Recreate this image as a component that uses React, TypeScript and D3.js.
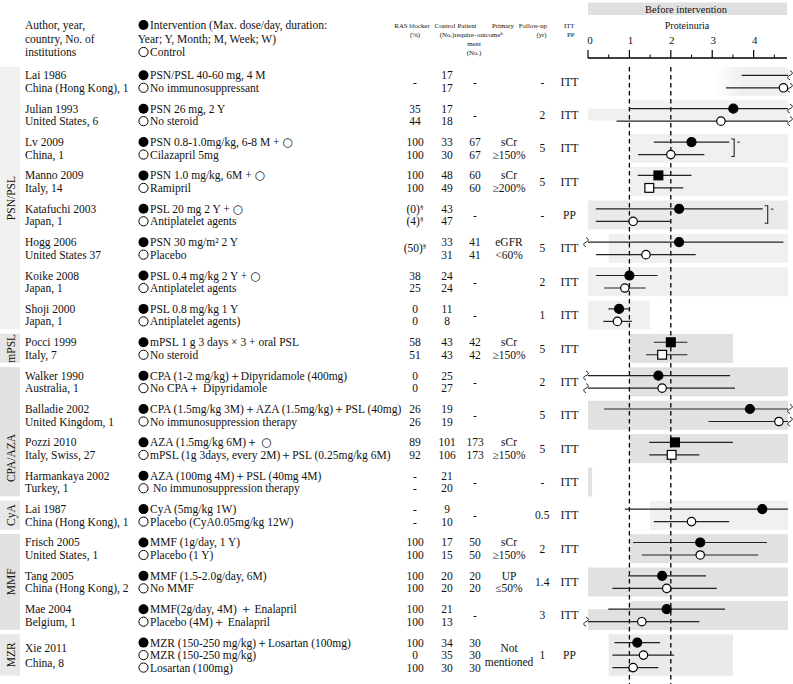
import React from "react";
import * as d3 from "d3";

// ---------- data ----------
const studies = ["Lai 1986","Julian 1993","Lv 2009","Manno 2009","Katafuchi 2003","Hogg 2006","Koike 2008","Shoji 2000","Pocci 1999","Walker 1990","Balladie 2002","Pozzi 2010","Harmankaya 2002","Lai 1987","Frisch 2005","Tang 2005","Mae 2004","Xie 2011"];
const countries = ["China (Hong Kong), 1","United States, 6","China, 1","Italy, 14","Japan, 1","United States 37","Japan, 1","Japan, 1","Italy, 7","Australia, 1","United Kingdom, 1","Italy, Swiss, 27","Turkey, 1","China (Hong Kong), 1","United States, 1","China (Hong Kong), 2","Belgium, 1","China, 8"];
const groupNames = ["PSN/PSL","mPSL","CPA/AZA","CyA","MMF","MZR"];
const groupFirst = [0,8,9,13,14,17];
const groupLast = [7,8,12,13,16,17];

const armText = [
  ["PSN/PSL 40-60 mg, 4 M","No immunosuppressant"],
  ["PSN 26 mg, 2 Y","No steroid"],
  ["PSN 0.8-1.0mg/kg, 6-8 M + ○","Cilazapril 5mg"],
  ["PSN 1.0 mg/kg, 6M + ○","Ramipril"],
  ["PSL 20 mg 2 Y + ○","Antiplatelet agents"],
  ["PSN 30 mg/m² 2 Y","Placebo"],
  ["PSL 0.4 mg/kg 2 Y + ○","Antiplatelet agents"],
  ["PSL 0.8 mg/kg 1 Y","Antiplatelet agents)"],
  ["mPSL 1 g 3 days × 3 + oral PSL","No steroid"],
  ["CPA (1-2 mg/kg)＋Dipyridamole (400mg)","No CPA＋ Dipyridamole"],
  ["CPA (1.5mg/kg 3M)＋AZA (1.5mg/kg)＋PSL (40mg)","No immunosuppression therapy"],
  ["AZA (1.5mg/kg 6M)＋ ○","mPSL (1g 3days, every 2M)＋PSL (0.25mg/kg 6M)"],
  ["AZA (100mg 4M)＋PSL (40mg 4M)"," No immunosuppression therapy"],
  ["CyA (5mg/kg 1W)","Placebo (CyA0.05mg/kg 12W)"],
  ["MMF (1g/day, 1 Y)","Placebo (1 Y)"],
  ["MMF (1.5-2.0g/day, 6M)","No MMF"],
  ["MMF(2g/day, 4M) ＋ Enalapril","Placebo (4M)＋ Enalapril"],
  ["MZR (150-250 mg/kg)＋Losartan (100mg)","MZR (150-250 mg/kg)","Losartan (100mg)"],
];

const rasBlocker = [["-"],["35","44"],["100","100"],["100","100"],["(0)§","(4)§"],["(50)§"],["38","25"],["0","0"],["58","51"],["0","0"],["26","26"],["89","92"],["-","-"],["-","-"],["100","100"],["100","100"],["100","100"],["100","0","100"]];
const controlNo = [["17","17"],["17","18"],["33","30"],["48","49"],["43","47"],["33","31"],["24","24"],["11","8"],["43","43"],["25","27"],["19","19"],["101","106"],["21","20"],["9","10"],["17","15"],["20","20"],["21","13"],["34","35","30"]];
const patientReq = [["-"],["-"],["67","67"],["60","60"],["-"],["41","41"],["-"],["-"],["42","42"],["-"],["-"],["173","173"],["-"],["-"],["50","50"],["20","20"],["-"],["30","30","30"]];
const outcome = [[],[],["sCr","≥150%"],["sCr","≥200%"],[],["eGFR","<60%"],[],[],["sCr","≥150%"],[],[],["sCr","≥150%"],[],[],["sCr","≥150%"],["UP","≤50%"],[],["Not","mentioned"]];
const followUp = ["-","2","5","5","-","5","2","1","5","2","5","5","-","0.5","2","1.4","3","1"];
const analysis = ["ITT","ITT","ITT","ITT","PP","ITT","ITT","ITT","ITT","ITT","ITT","ITT","ITT","ITT","ITT","ITT","ITT","PP"];

// proteinuria estimates (null = not shown); values beyond the axis are drawn with a break
const est = [[null,4.72],[3.51,3.21],[2.50,2.00],[1.70,1.48],[2.20,1.09],[2.20,1.40],[1.00,0.89],[0.75,0.71],[2.00,1.79],[1.70,1.79],[3.91,4.61],[2.10,2.02],[null,null],[4.21,2.50],[2.71,2.71],[1.79,1.90],[1.90,1.30],[1.19,1.34,1.09]];
const lo = [[3.71,3.33],[1.00,0.69],[1.59,1.21],[1.20,1.45],[0.19,0.19],[-0.5,0.19],[0.19,0.39],[0.49,0.37],[1.59,1.40],[-0.5,-0.5],[0.39,2.91],[1.48,1.48],[null,null],[0.89,1.59],[1.09,1.30],[0.97,0.59],[0.49,-0.5],[0.64,0.59,0.59]];
const hi = [[6.0,6.0],[6.0,6.0],[3.41,2.81],[2.50,2.30],[4.22,2.00],[4.72,2.60],[1.68,1.39],[1.00,1.06],[2.40,2.40],[3.43,3.55],[6.0,6.0],[3.50,2.69],[null,null],[4.83,3.41],[4.32,4.11],[2.85,3.11],[3.31,2.69],[1.74,2.08,1.70]];
const markShape = ["circle","circle","circle","square","circle","circle","circle","circle","square","circle","circle","square","circle","circle","circle","circle","circle","circle"];

// baseline ("before intervention") ranges
const bgFrom = [3.07,1.0,1.0,1.0,0,0.5,0,0,1.0,1.0,0,1.0,0,1.5,1.0,0,1.0,0.5];
const bgTo = [4.83,4.83,4.83,4.83,4.83,4.83,4.83,1.5,3.5,4.83,4.83,4.83,0.1,4.83,4.83,4.83,4.83,3.5];
const bgExtFrom = [null,0,null,null,null,null,null,null,null,null,null,null,null,null,null,null,0,null];
const bgExtTo = [null,1.0,null,null,null,null,null,null,null,null,null,null,null,null,null,null,1.0,null];
const bgTone = ["fade","light","light","light","mid","light","light","light","dark","dark","dark","dark","dark","light","dark","dark","dark","mid"];

const bracketStudy = [2,4];
const bracketAt = [3.53,4.34];

const majorTicks = [0,1,2,3,4];
const minorTicks = [0.5,1.5,2.5,3.5,4.5];
const refLines = [1,2];

// ---------- layout ----------
const W = 793, H = 684;
const FONT = "'Liberation Serif','Times New Roman',Times,serif";
const x = d3.scaleLinear().domain([0, 4.83]).range([588, 788]);
const Y0 = 75.3, STEP = 33.37, ROW = 12.5;
const rowY = (i: number, k: number) => Y0 + i * STEP + k * ROW;
const midY = (i: number) => rowY(i, (armText[i].length - 1) / 2);
const toneColor: Record<string, string> = { fade: "#f0f0f0", light: "#f0f0f0", mid: "#eaeaea", dark: "#e1e1e1" };
const groupColor = ["#f1f1f1","#e5e5e5","#e1e1e1","#e8e8e8","#e1e1e1","#e8e8e8"];
const SYM_X = 143.5;

function Sup({ s }: { s: string }) {
  const parts = s.split("§");
  if (parts.length === 1) return <>{s}</>;
  return <>{parts[0]}<tspan fontSize={7} dy={-4}>§</tspan></>;
}

function ArmLabel({ t }: { t: string }) {
  const parts = t.split("○");
  if (parts.length === 1) return <>{t}</>;
  return (
    <>
      {parts[0]}
      <tspan fontFamily="'DejaVu Sans',sans-serif" fontSize={12}>○</tspan>
      {parts[1]}
    </>
  );
}

function colLines(vals: string[], i: number) {
  const n = vals.length;
  if (n === 1) return [midY(i)];
  const nr = armText[i].length;
  if (n === nr) return vals.map((_, k) => rowY(i, k));
  const m = midY(i);
  return vals.map((_, k) => m + (k - (n - 1) / 2) * 13.5);
}

function Squiggle({ cx, y }: { cx: number; y: number }) {
  return <path d={`M${cx},${y - 4.5} c3,1 3,3.5 0,4.5 c-3,1 -3,3.5 0,4.5`} fill="none" stroke="#222" strokeWidth={1} />;
}

export default function App() {
  const [d0, d1] = x.domain();
  const colCells = (arr: string[][], cx: number) =>
    arr.map((vals, i) => {
      const ys = colLines(vals, i);
      return vals.map((v, k) => (
        <text key={`${cx}-${i}-${k}`} x={cx} y={ys[k] + 4} textAnchor="middle"><Sup s={v} /></text>
      ));
    });

  return (
    <div style={{ position: "absolute", left: 0, top: 0 }}>
      <svg width={W} height={H} style={{ display: "block", background: "#fff" }} fontFamily={FONT} fontSize={11.5} fill="#111">
        <defs>
          <linearGradient id="fadeGrad" x1="0" x2="1" y1="0" y2="0">
            <stop offset="0" stopColor="#ffffff" />
            <stop offset="0.35" stopColor="#f0f0f0" />
            <stop offset="1" stopColor="#f0f0f0" />
          </linearGradient>
        </defs>

        {/* group label boxes */}
        {groupNames.map((g, j) => {
          const top = rowY(groupFirst[j], 0) - 8.5;
          const last = groupLast[j];
          const bot = rowY(last, armText[last].length - 1) + 8;
          const cy = g === "CPA/AZA" ? 458 : (top + bot) / 2;
          return (
            <g key={g}>
              <rect x={0} y={top} width={20} height={bot - top} fill={groupColor[j]} />
              <text transform={`translate(14.5,${cy}) rotate(-90)`} textAnchor="middle">{g}</text>
            </g>
          );
        })}

        {/* header left */}
        <text x={25} y={29}>Author, year,</text>
        <text x={25} y={43}>country, No. of</text>
        <text x={25} y={56}>institutions</text>
        <circle cx={SYM_X} cy={25} r={5} fill="#000" />
        <text x={150} y={29}>Intervention (Max. dose/day, duration:</text>
        <text x={137.7} y={43}>Year; Y, Month; M, Week; W)</text>
        <circle cx={SYM_X} cy={52} r={4.6} fill="#fff" stroke="#000" strokeWidth={1} />
        <text x={150} y={56}>Control</text>

        {/* header columns */}
        <g fontSize={6.8}>
          <text x={412} y={28} textAnchor="middle">RAS blocker</text>
          <text x={415} y={37} textAnchor="middle">(%)</text>
          <text x={445} y={28} textAnchor="middle">Control</text>
          <text x={447} y={37} textAnchor="middle">(No.)</text>
          <text x={467} y={28} textAnchor="middle">Patient</text>
          <text x={454.5} y={37}>require-</text>
          <text x={477} y={37}>outcome<tspan fontSize={5} dy={-2.5}>b</tspan></text>
          <text x={474} y={45.5} textAnchor="middle">ment</text>
          <text x={474} y={54.5} textAnchor="middle">(No.)</text>
          <text x={503} y={28} textAnchor="middle">Primary</text>
          <text x={533} y={28} textAnchor="middle">Follow-up</text>
          <text x={541.5} y={37} textAnchor="middle">(yr)</text>
          <text x={574.5} y={28} textAnchor="end">ITT</text>
          <text x={574.5} y={37} textAnchor="end">PP</text>
        </g>

        {/* before intervention header */}
        <rect x={x(0)} y={2.5} width={x(d1) - x(0) - 1} height={12.5} fill="#e0e0e0" />
        <text x={686} y={12.5} textAnchor="middle" fontSize={10.5}>Before intervention</text>
        <text x={687} y={29} textAnchor="middle" fontSize={10}>Proteinuria</text>

        {/* background boxes */}
        {studies.map((s, i) => {
          const nr = armText[i].length;
          const top = rowY(i, 0) - 8.3;
          const julianLike = bgExtFrom[i] !== null && i === 1;
          const bot = julianLike ? rowY(i, nr - 1) - 0.7 : rowY(i, nr - 1) + 8.2;
          const fill = bgTone[i] === "fade" ? "url(#fadeGrad)" : toneColor[bgTone[i]];
          return (
            <g key={`bg${i}`}>
              <rect x={x(bgFrom[i])} y={top} width={x(bgTo[i]) - x(bgFrom[i])} height={bot - top} fill={fill} />
              {bgExtFrom[i] !== null && (
                <rect x={x(bgExtFrom[i] as number)} y={rowY(i, 0)} width={x(bgExtTo[i] as number) - x(bgExtFrom[i] as number)} height={bot - rowY(i, 0)} fill={fill} />
              )}
            </g>
          );
        })}

        {/* axis */}
        <line x1={x(0)} x2={x(d1) - 1} y1={58} y2={58} stroke="#000" strokeWidth={1.5} />
        {majorTicks.map((t) => (
          <g key={`mt${t}`}>
            <line x1={x(t)} x2={x(t)} y1={50} y2={58} stroke="#000" strokeWidth={1.2} />
            <text x={x(t) + (t === 0 ? 2 : 1)} y={44} textAnchor="middle" fontSize={11}>{t}</text>
          </g>
        ))}
        {minorTicks.map((t) => (
          <line key={`nt${t}`} x1={x(t)} x2={x(t)} y1={54.5} y2={58} stroke="#000" strokeWidth={1} />
        ))}

        {/* reference lines */}
        {refLines.map((r) => (
          <line key={`ref${r}`} x1={x(r)} x2={x(r)} y1={67} y2={H} stroke="#000" strokeWidth={1.3} strokeDasharray="4.5,3.5" />
        ))}

        {/* left text */}
        {studies.map((s, i) => {
          const nr = armText[i].length;
          const ya = nr === 3 ? midY(i) - 7 : rowY(i, 0);
          const yb = nr === 3 ? midY(i) + 7.5 : rowY(i, 1);
          return (
            <g key={`lt${i}`}>
              <text x={25} y={ya + 4}>{s}</text>
              <text x={25} y={yb + 4}>{countries[i]}</text>
              {armText[i].map((t, k) => (
                <g key={k}>
                  {k === 0 ? (
                    <circle cx={SYM_X} cy={rowY(i, k)} r={5} fill="#000" />
                  ) : (
                    <circle cx={SYM_X} cy={rowY(i, k)} r={4.6} fill="#fff" stroke="#000" strokeWidth={1} />
                  )}
                  <text x={150} y={rowY(i, k) + 4} style={{ whiteSpace: "pre" }}><ArmLabel t={t} /></text>
                </g>
              ))}
            </g>
          );
        })}

        {/* table columns */}
        {colCells(rasBlocker, 415)}
        {colCells(controlNo, 447)}
        {colCells(patientReq, 475)}
        {colCells(outcome, 509)}
        {followUp.map((f, i) => (
          <text key={`fu${i}`} x={542.3} y={midY(i) + 4} textAnchor="middle">{f}</text>
        ))}
        {analysis.map((a, i) => (
          <text key={`an${i}`} x={569.5} y={midY(i) + 4} textAnchor="middle">{a}</text>
        ))}

        {/* estimates */}
        {studies.map((s, i) =>
          armText[i].map((_, k) => {
            const l = lo[i][k], h = hi[i][k], e = est[i][k];
            if (l === null || h === null) return null;
            const y = rowY(i, k);
            const xl = x(Math.max(l, d0));
            const xh = x(Math.min(h, d1));
            const filled = k === 0;
            return (
              <g key={`m${i}-${k}`}>
                <line x1={xl} x2={xh} y1={y} y2={y} stroke="#222" strokeWidth={1.2} />
                {l < d0 && <Squiggle cx={xl - 2} y={y} />}
                {h > d1 && <Squiggle cx={xh + 2} y={y} />}
                {e !== null && e <= d1 && (markShape[i] === "square" ? (
                  <rect x={x(e) - 4.4} y={y - 4.4} width={8.8} height={8.8} fill={filled ? "#000" : "#fff"} stroke="#000" strokeWidth={1.2} />
                ) : (
                  <circle cx={x(e)} cy={y} r={filled ? 4.5 : 4.2} fill={filled ? "#000" : "#fff"} stroke="#000" strokeWidth={1.2} />
                ))}
              </g>
            );
          })
        )}

        {/* significance brackets */}
        {bracketStudy.map((i, j) => {
          const bx = x(bracketAt[j]);
          const y1 = rowY(i, 0) - 3;
          const y2 = rowY(i, 1) + 2;
          return (
            <g key={`br${i}`}>
              <path d={`M${bx - 3},${y1} H${bx} V${y2} H${bx - 3}`} fill="none" stroke="#222" strokeWidth={1.1} />
              <text x={bx + 2.5} y={y1 + 6} fontSize={7}>*</text>
            </g>
          );
        })}
      </svg>
    </div>
  );
}
